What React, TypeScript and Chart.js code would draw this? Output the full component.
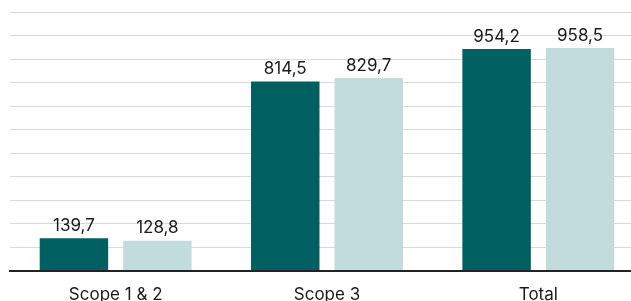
import React, { useEffect, useRef } from "react";
import { Chart, registerables } from "chart.js";

Chart.register(...registerables);

const categories = ["Scope 1 & 2", "Scope 3", "Total"];
const seriesA = [139.7, 814.5, 954.2];
const seriesB = [128.8, 829.7, 958.5];
const seriesNames = ["Year 1", "Year 2"];
const yMax = 1114;
const gridCount = 11;

const fmt = (v: number) => v.toFixed(1).replace(".", ",");

const labelPlugin = {
  id: "barLabels",
  afterDatasetsDraw(chart: any) {
    const ctx = chart.ctx;
    ctx.save();
    ctx.font = "17px Inter";
    ctx.fillStyle = "#1a1a1a";
    ctx.textAlign = "center";
    ctx.textBaseline = "bottom";
    chart.data.datasets.forEach((ds: any, i: number) => {
      const meta = chart.getDatasetMeta(i);
      meta.data.forEach((bar: any, j: number) => {
        ctx.fillText(fmt(ds.data[j]), bar.x, bar.y - 4);
      });
    });
    ctx.restore();
  },
};

export default function App() {
  const ref = useRef<HTMLCanvasElement | null>(null);
  useEffect(() => {
    if (!ref.current) return;
    const chart = new Chart(ref.current, {
      type: "bar",
      data: {
        labels: categories,
        datasets: [
          { label: seriesNames[0], data: seriesA, backgroundColor: "#005f61" },
          { label: seriesNames[1], data: seriesB, backgroundColor: "#c2dcdc" },
        ],
      },
      options: {
        animation: false,
        responsive: false,
        layout: { padding: { left: 10, top: 12, right: 0, bottom: 0 } },
        plugins: { legend: { display: false }, tooltip: { enabled: false } },
        datasets: { bar: { categoryPercentage: 0.79, barPercentage: 0.82 } },
        scales: {
          x: {
            grid: { display: false, drawTicks: false },
            border: { display: true, color: "#222222", width: 2 },
            ticks: { color: "#1a1a1a", font: { family: "Inter", size: 17 }, padding: 14 },
          },
          y: {
            min: 0,
            max: yMax,
            ticks: { display: false },
            afterBuildTicks: (axis: any) => {
              axis.ticks = Array.from({ length: gridCount + 1 }, (_, i) => ({ value: (yMax * i) / gridCount }));
            },
            grid: { color: "#d9d9d9", lineWidth: 1, drawTicks: false },
            border: { display: false },
          },
        },
      },
      plugins: [labelPlugin],
    });
    return () => chart.destroy();
  }, []);
  return (
    <div style={{ position: "absolute", left: 0, top: 0, width: 631, height: 301, overflow: "hidden" }}>
      <canvas ref={ref} width={644} height={319} style={{ display: "block" }} />
    </div>
  );
}
